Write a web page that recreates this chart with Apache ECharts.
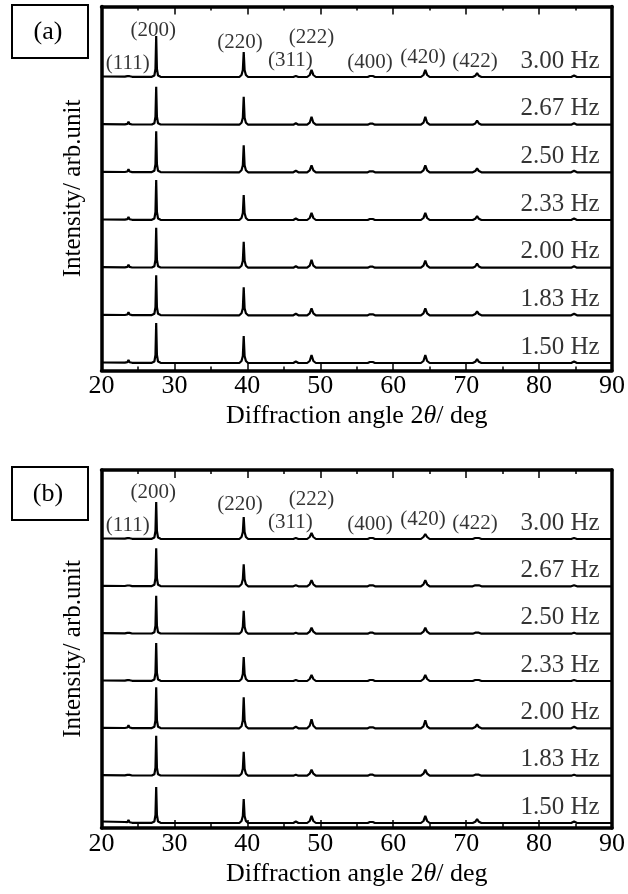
<!DOCTYPE html>
<html><head><meta charset="utf-8">
<script src="https://cdn.jsdelivr.net/npm/echarts@6.0.0/dist/echarts.min.js"></script>
<style>html,body{margin:0;padding:0;background:#fff}#c{width:628px;height:894px}</style>
</head><body><div id="c"></div><script>
// ---- data ----
const twoTheta = [20, 23.2, 23.55, 23.7, 23.85, 24.2,
  26.9, 27.25, 27.4, 27.5, 27.6, 27.75, 28.1,
  38.9, 39.2, 39.38, 39.5, 39.62, 39.8, 40.1,
  46.3, 46.65, 47.0,
  48.2, 48.55, 48.8, 49.05, 49.4,
  56.5, 56.8, 57.0, 57.2, 57.5,
  63.8, 64.15, 64.4, 64.65, 65.0,
  70.9, 71.25, 71.5, 71.75, 72.1,
  84.4, 84.8, 85.2, 90];
const hzLabels = ['1.50 Hz', '1.83 Hz', '2.00 Hz', '2.33 Hz', '2.50 Hz', '2.67 Hz', '3.00 Hz'];
// panel (a) intensities (arb. units), order 1.50 ... 3.00 Hz
const a150 = [0.5,0.3,0.8,3,0.8,0.2, 0.2,1.5,8,40,8,1.5,0.2, 0,2,7,27,7,2,0, 0,1.5,0, 0,2,8,2,0, 0,1,3,1,0, 0,2,8,2,0, 0,1.2,4,1.2,0, 0,1.5,0,0];
const a183 = [0.5,0.3,0.8,3,0.8,0.2, 0.2,1.5,8,40,8,1.5,0.2, 0,2,7,28,7,2,0, 0,1.5,0, 0,2,7,2,0, 0,1,3,1,0, 0,2,7,2,0, 0,1.2,4,1.2,0, 0,1.5,0,0];
const a200 = [0.5,0.3,0.8,3,0.8,0.2, 0.2,1.5,8,40,8,1.5,0.2, 0,2,7,26,7,2,0, 0,1.5,0, 0,2,8,2,0, 0,1,3,1,0, 0,2,7,2,0, 0,1.2,4,1.2,0, 0,1.5,0,0];
const a233 = [0.5,0.3,0.8,3,0.8,0.2, 0.2,1.5,8,40,8,1.5,0.2, 0,2,7,25,7,2,0, 0,1.5,0, 0,2,7,2,0, 0,1,3,1,0, 0,2,7,2,0, 0,1.2,4,1.2,0, 0,1.5,0,0];
const a250 = [0.5,0.3,0.8,3,0.8,0.2, 0.2,1.5,8,41,8,1.5,0.2, 0,2,7,27,7,2,0, 0,1.5,0, 0,2,7,2,0, 0,1,3,1,0, 0,2,7,2,0, 0,1.2,4,1.2,0, 0,1.5,0,0];
const a267 = [0.5,0.3,0.8,3,0.8,0.2, 0.2,1.5,8,38,8,1.5,0.2, 0,2,7,28,7,2,0, 0,1.5,0, 0,2,8,2,0, 0,1,3,1,0, 0,2,8,2,0, 0,1.2,4,1.2,0, 0,1.5,0,0];
const a300 = [0.5,0.3,0.8,2.5,0.8,0.2, 0.2,1.5,8,41,8,1.5,0.2, 0,2,7,25,7,2,0, 0,1,0, 0,2,7,2,0, 0,1,3,1,0, 0,2,7,2,0, 0,1.2,4,1.2,0, 0,1.5,0,0];
// panel (b)
const b150 = [1.5,1,0.8,3,0.8,0.2, 0.2,1.5,8,36,8,1.5,0.2, 0,2,7,24,7,2,0, 0,1.5,0, 0,2,7,2,0, 0,1,3,1,0, 0,2,7,2,0, 0,1.2,4,1.2,0, 0,1.5,0,0];
const b183 = [0.5,0.3,0.8,2.5,0.8,0.2, 0.2,1.5,8,40,8,1.5,0.2, 0,2,7,24,7,2,0, 0,1,0, 0,2,6,2,0, 0,1,2.5,1,0, 0,2,6,2,0, 0,1,3,1,0, 0,1,0,0];
const b200 = [0.5,0.3,0.8,3,0.8,0.2, 0.2,1.5,8,41,8,1.5,0.2, 0,2,8,31,8,2,0, 0,1.5,0, 0,2.5,9,2.5,0, 0,1,3,1,0, 0,2,8,2,0, 0,1.2,4,1.2,0, 0,1.5,0,0];
const b233 = [0.5,0.3,0.8,2.5,0.8,0.2, 0.2,1.5,8,38,8,1.5,0.2, 0,2,7,24,7,2,0, 0,1,0, 0,2,6,2,0, 0,1,2.5,1,0, 0,2,6,2,0, 0,1,3,1,0, 0,1,0,0];
const b250 = [0.5,0.3,0.8,2.5,0.8,0.2, 0.2,1.5,8,38,8,1.5,0.2, 0,2,7,23,7,2,0, 0,1,0, 0,2,6,2,0, 0,1,2.5,1,0, 0,2,6,2,0, 0,1,3,1,0, 0,1,0,0];
const b267 = [0.5,0.3,0.8,2.5,0.8,0.2, 0.2,1.5,8,38,8,1.5,0.2, 0,2,7,22,7,2,0, 0,1,0, 0,2,6,2,0, 0,1,2.5,1,0, 0,2,6,2,0, 0,1,3,1,0, 0,1,0,0];
const b300 = [0.5,0.3,0.8,2.5,0.8,0.2, 0.2,1.5,8,37,8,1.5,0.2, 0,2,7,22,7,2,0, 0,1,0, 0,2,6,2,0, 0,1,2.5,1,0, 0,2,5,2,0, 0,1,3,1,0, 0,1,0,0];
const panelA = [a150, a183, a200, a233, a250, a267, a300];
const panelB = [b150, b183, b200, b233, b250, b267, b300];
// vertical stacking offsets of each trace
const offsetsA = [7.5, 55.2, 102.8, 150.5, 198.2, 245.8, 293.5];
const offsetsB = [5, 52.3, 99.7, 147, 194.3, 241.7, 289];
const millerLabels = ['(111)', '(200)', '(220)', '(311)', '(222)', '(400)', '(420)', '(422)'];
const millerX = [23.6, 27.1, 39.0, 45.9, 48.8, 56.8, 64.1, 71.2];
const millerDy = [14, 47, 35, 17, 40, 15, 20, 16];
const xTicks = [20, 30, 40, 50, 60, 70, 80, 90];

// ---- chart ----
const FONT = '"Liberation Serif", "Times New Roman", serif';
const INK = '#000';
const chart = echarts.init(document.getElementById('c'), null, {renderer: 'canvas'});
const grids = [
  {left: 101.5, top: 6.5, width: 511, height: 364},
  {left: 101.5, top: 470, width: 511, height: 358}
];
const yMax = [364, 358];
const xAxes = [], yAxes = [], series = [];
[panelA, panelB].forEach((panel, g) => {
  const offs = g === 0 ? offsetsA : offsetsB;
  xAxes.push({
    gridIndex: g, type: 'value', min: xTicks[0], max: xTicks[xTicks.length - 1], interval: 10,
    position: 'bottom',
    axisLine: {show: true, onZero: false, lineStyle: {color: '#000', width: 3.5}},
    axisTick: {show: true, inside: true, length: 8, lineStyle: {color: '#000', width: 1.5}},
    minorTick: {show: true, splitNumber: 2, length: 4, lineStyle: {color: '#000', width: 1.5}},
    splitLine: {show: false},
    axisLabel: {show: true, margin: 3, color: INK, fontFamily: FONT, fontSize: 26},
    name: 'Diffraction angle 2{i|θ}/ deg', nameLocation: 'middle', nameGap: 33,
    nameTextStyle: {color: INK, fontFamily: FONT, fontSize: 26,
      rich: {i: {fontStyle: 'italic', fontFamily: FONT, fontSize: 26, color: INK}}}
  });
  xAxes.push({
    gridIndex: g, type: 'value', min: 20, max: 90, interval: 10, position: 'top',
    axisLine: {show: true, onZero: false, lineStyle: {color: '#000', width: 3.5}},
    axisTick: {show: true, inside: true, length: 8, lineStyle: {color: '#000', width: 1.5}},
    minorTick: {show: true, splitNumber: 2, length: 4, lineStyle: {color: '#000', width: 1.5}},
    splitLine: {show: false}, axisLabel: {show: false}
  });
  yAxes.push({
    gridIndex: g, type: 'value', min: 0, max: yMax[g], position: 'left',
    axisLine: {show: true, onZero: false, lineStyle: {color: '#000', width: 3.5}},
    axisTick: {show: false}, axisLabel: {show: false}, splitLine: {show: false},
    name: 'Intensity/ arb.unit', nameLocation: 'middle', nameRotate: 90, nameGap: 16,
    nameTextStyle: {color: INK, fontFamily: FONT, fontSize: 25}
  });
  yAxes.push({
    gridIndex: g, type: 'value', min: 0, max: yMax[g], position: 'right',
    axisLine: {show: true, onZero: false, lineStyle: {color: '#000', width: 3.5}},
    axisTick: {show: false}, axisLabel: {show: false}, splitLine: {show: false}
  });
  panel.forEach((vals, t) => {
    series.push({
      type: 'line', xAxisIndex: g * 2, yAxisIndex: g * 2, symbol: 'none', silent: true,
      lineStyle: {color: '#000', width: 2.2}, z: 3,
      data: twoTheta.map((x, i) => [x, offs[t] + vals[i]])
    });
  });
  // frequency labels
  series.push({
    type: 'scatter', xAxisIndex: g * 2, yAxisIndex: g * 2, symbolSize: 0, silent: true, z: 5,
    data: hzLabels.map((s, t) => ({name: s, value: [88.3, offs[t] + 16]})),
    label: {show: true, position: 'left', distance: 0, formatter: '{b}',
      color: INK, fontFamily: FONT, fontSize: 25}
  });
  // Miller indices on the top trace
  const top = offs[offs.length - 1];
  series.push({
    type: 'scatter', xAxisIndex: g * 2, yAxisIndex: g * 2, symbolSize: 0, silent: true, z: 5,
    data: millerLabels.map((s, k) => ({name: s, value: [millerX[k], top + millerDy[k]]})),
    label: {show: true, position: 'inside', formatter: '{b}',
      color: INK, fontFamily: FONT, fontSize: 21}
  });
});

chart.setOption({
  animation: false,
  backgroundColor: '#fff',
  grid: grids,
  xAxis: xAxes,
  yAxis: yAxes,
  series: series,
  graphic: [
    {type: 'rect', shape: {x: 12, y: 5, width: 76, height: 53}, style: {fill: '#fff', stroke: '#000', lineWidth: 2}},
    {type: 'text', style: {text: '(a)', x: 48, y: 32, textAlign: 'center', textVerticalAlign: 'middle', font: '26px ' + FONT, fill: INK}},
    {type: 'rect', shape: {x: 12, y: 467, width: 76, height: 53}, style: {fill: '#fff', stroke: '#000', lineWidth: 2}},
    {type: 'text', style: {text: '(b)', x: 48, y: 494, textAlign: 'center', textVerticalAlign: 'middle', font: '26px ' + FONT, fill: INK}}
  ]
});
</script></body></html>
